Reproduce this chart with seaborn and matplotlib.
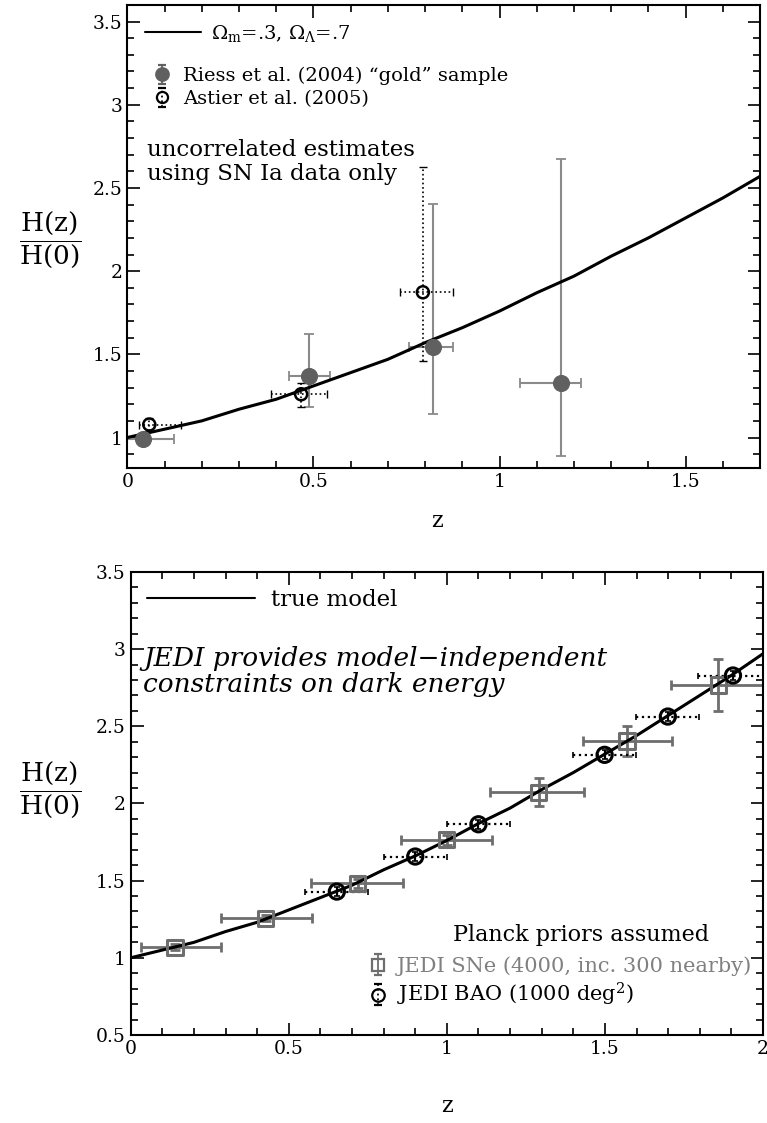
import numpy as np
import seaborn as sns
import matplotlib.pyplot as plt
from matplotlib.lines import Line2D
from matplotlib.ticker import MultipleLocator

CONFIG_DPI = 100
CONFIG_FIGSIZE_INCHES = (7.67, 11.23)
GRAY_MARK = "#606060"
GRAY_BAR = "#8a8a8a"
GRAY_SQ = "#6e6e6e"

# --- top panel: LCDM curve ---
Z_TOP = [0.0, 0.1, 0.2, 0.3, 0.4, 0.5, 0.6, 0.7, 0.8, 0.9,
         1.0, 1.1, 1.2, 1.3, 1.4, 1.5, 1.6, 1.7]
H_TOP = [1.00, 1.05, 1.10, 1.17, 1.23, 1.31, 1.39, 1.47, 1.57, 1.66,
         1.76, 1.87, 1.97, 2.09, 2.20, 2.32, 2.44, 2.57]

# Riess et al. (2004) gold sample
RIESS_Z = [0.043, 0.488, 0.820, 1.166]
RIESS_H = [0.99, 1.37, 1.543, 1.33]
RIESS_ZLO = [0.0, 0.435, 0.757, 1.055]
RIESS_ZHI = [0.126, 0.545, 0.876, 1.219]
RIESS_HLO = [0.96, 1.184, 1.140, 0.888]
RIESS_HHI = [1.02, 1.620, 2.404, 2.676]

# Astier et al. (2005)
ASTIER_Z = [0.059, 0.467, 0.794]
ASTIER_H = [1.078, 1.260, 1.873]
ASTIER_ZLO = [0.032, 0.386, 0.733]
ASTIER_ZHI = [0.144, 0.536, 0.876]
ASTIER_HLO = [1.038, 1.184, 1.458]
ASTIER_HHI = [1.118, 1.330, 2.623]

# --- bottom panel: true model curve ---
Z_BOT = [0.0, 0.1, 0.2, 0.3, 0.4, 0.5, 0.6, 0.7, 0.8, 0.9, 1.0,
         1.1, 1.2, 1.3, 1.4, 1.5, 1.6, 1.7, 1.8, 1.9, 2.0]
H_BOT = [1.00, 1.05, 1.10, 1.17, 1.23, 1.31, 1.39, 1.47, 1.57, 1.66, 1.76,
         1.87, 1.97, 2.09, 2.20, 2.32, 2.44, 2.57, 2.70, 2.83, 2.97]

# JEDI SNe
SNE_Z = [0.140, 0.427, 0.718, 1.000, 1.290, 1.570, 1.859]
SNE_H = [1.068, 1.256, 1.483, 1.764, 2.073, 2.405, 2.768]
SNE_ZLO = [0.032, 0.286, 0.570, 0.855, 1.137, 1.430, 1.709]
SNE_ZHI = [0.285, 0.575, 0.861, 1.142, 1.434, 1.712, 2.000]
SNE_HERR = [0.02, 0.02, 0.03, 0.03, 0.09, 0.10, 0.17]

# JEDI BAO
BAO_Z = [0.652, 0.900, 1.100, 1.499, 1.699, 1.905]
BAO_H = [1.429, 1.656, 1.865, 2.315, 2.563, 2.829]
BAO_ZERR = [0.10, 0.10, 0.10, 0.10, 0.10, 0.11]
BAO_HERR = [0.03, 0.03, 0.03, 0.03, 0.03, 0.03]

TOP_XTICKS = [0, 0.5, 1, 1.5]
TOP_XLABELS = ["0", "0.5", "1", "1.5"]
TOP_YTICKS = [1, 1.5, 2, 2.5, 3, 3.5]
TOP_YLABELS = ["1", "1.5", "2", "2.5", "3", "3.5"]
BOT_XTICKS = [0, 0.5, 1, 1.5, 2]
BOT_XLABELS = ["0", "0.5", "1", "1.5", "2"]
BOT_YTICKS = [0.5, 1, 1.5, 2, 2.5, 3, 3.5]
BOT_YLABELS = ["0.5", "1", "1.5", "2", "2.5", "3", "3.5"]

HZ_LABEL = r"$\dfrac{\mathrm{H(z)}}{\mathrm{H(0)}}$"


def style_axis(ax, xticks, xlabels, yticks, ylabels):
    ax.set_xticks(xticks, xlabels)
    ax.set_yticks(yticks, ylabels)
    ax.xaxis.set_minor_locator(MultipleLocator(0.1))
    ax.yaxis.set_minor_locator(MultipleLocator(0.1))
    ax.tick_params(which="both", direction="in", top=True, right=True,
                   width=1.2, colors="black", labelsize=13.5)
    ax.tick_params(which="major", length=9)
    ax.tick_params(which="minor", length=5)
    for sp in ax.spines.values():
        sp.set_linewidth(1.5)
        sp.set_color("black")


def bar_proxy(ax, marker, color, mfc, dotted, ms):
    # empty errorbar used only as a legend key
    eb = ax.errorbar([np.nan], [np.nan], yerr=[np.nan], fmt=marker, color=color,
                     mfc=mfc, mec=color, ms=ms, mew=1.6, ecolor=color,
                     elinewidth=1.3, capsize=3, capthick=1.2)
    if dotted:
        eb[2][0].set_linestyle(":")
    return eb


def main():
    sns.set_style("ticks")
    plt.rcParams["font.family"] = ["DejaVu Serif"]
    plt.rcParams["mathtext.fontset"] = "dejavuserif"
    plt.rcParams["text.color"] = "black"
    plt.rcParams["axes.labelcolor"] = "black"

    fig = plt.figure(figsize=CONFIG_FIGSIZE_INCHES, dpi=CONFIG_DPI)
    ax1 = fig.add_axes([0.166, 0.583, 0.825, 0.4126])
    ax2 = fig.add_axes([0.1704, 0.0784, 0.8244, 0.4123])

    # ---------------- top panel ----------------
    rz, rh = np.array(RIESS_Z), np.array(RIESS_H)
    ax1.errorbar(rz, rh,
                 xerr=[rz - np.array(RIESS_ZLO), np.array(RIESS_ZHI) - rz],
                 yerr=[rh - np.array(RIESS_HLO), np.array(RIESS_HHI) - rh],
                 fmt="none", ecolor=GRAY_BAR, elinewidth=1.5, capsize=3.5,
                 capthick=1.3, zorder=2)
    az, ah = np.array(ASTIER_Z), np.array(ASTIER_H)
    eb = ax1.errorbar(az, ah,
                      xerr=[az - np.array(ASTIER_ZLO), np.array(ASTIER_ZHI) - az],
                      yerr=[ah - np.array(ASTIER_HLO), np.array(ASTIER_HHI) - ah],
                      fmt="none", ecolor="black", elinewidth=1.2, capsize=3,
                      capthick=1.0, zorder=2)
    eb[2][0].set_linestyle(":")
    eb[2][1].set_linestyle(":")
    sns.lineplot(x=Z_TOP, y=H_TOP, ax=ax1, color="black", linewidth=2.2,
                 zorder=3)
    sns.scatterplot(x=RIESS_Z, y=RIESS_H, ax=ax1, s=130, color=GRAY_MARK,
                    edgecolor=GRAY_MARK, zorder=4)
    sns.scatterplot(x=ASTIER_Z, y=ASTIER_H, ax=ax1, s=75, facecolor="none",
                    edgecolor="black", linewidth=1.8, zorder=5)

    ax1.set_xlim(0, 1.7)
    ax1.set_ylim(0.815, 3.6)
    style_axis(ax1, TOP_XTICKS, TOP_XLABELS, TOP_YTICKS, TOP_YLABELS)

    ax1.set_xlabel("z", fontsize=16)
    ax1.xaxis.set_label_coords(0.49, -0.09)
    ax1.set_ylabel(HZ_LABEL, fontsize=19, rotation=0, ha="center", va="center")
    ax1.yaxis.set_label_coords(-0.122, 0.493)

    leg_a = ax1.legend(handles=[Line2D([], [], color="black", lw=1.5)],
                       labels=[r"$\Omega_{\rm m}$=.3, $\Omega_\Lambda$=.7"],
                       loc="upper left", bbox_to_anchor=(0.028, 0.962),
                       borderpad=0, borderaxespad=0, handlelength=2.9,
                       handletextpad=0.5, frameon=False, fontsize=14)
    ax1.add_artist(leg_a)
    h_riess = bar_proxy(ax1, "o", GRAY_MARK, GRAY_MARK, False, 9)
    h_astier = bar_proxy(ax1, "o", "black", "none", True, 8)
    ax1.legend(handles=[h_riess, h_astier],
               labels=["Riess et al. (2004) \u201cgold\u201d sample",
                       "Astier et al. (2005)"],
               loc="upper left", bbox_to_anchor=(0.039, 0.866), borderpad=0,
               borderaxespad=0, handlelength=1.0, handletextpad=0.6,
               labelspacing=0.25, frameon=False, fontsize=14)

    ax1.text(0.031, 0.71, "uncorrelated estimates\nusing SN Ia data only",
             transform=ax1.transAxes, ha="left", va="top", fontsize=16.5,
             linespacing=1.1)

    # ---------------- bottom panel ----------------
    sz, sh = np.array(SNE_Z), np.array(SNE_H)
    ax2.errorbar(sz, sh,
                 xerr=[sz - np.array(SNE_ZLO), np.array(SNE_ZHI) - sz],
                 yerr=SNE_HERR, fmt="none", ecolor=GRAY_SQ, elinewidth=2.0,
                 capsize=3.5, capthick=2.0, zorder=2)
    eb = ax2.errorbar(BAO_Z, BAO_H, xerr=BAO_ZERR, yerr=BAO_HERR, fmt="none",
                      ecolor="black", elinewidth=1.6, capsize=2.5,
                      capthick=1.2, zorder=2)
    eb[2][0].set_linestyle(":")
    sns.lineplot(x=Z_BOT, y=H_BOT, ax=ax2, color="black", linewidth=2.2,
                 zorder=3)
    sns.scatterplot(x=SNE_Z, y=SNE_H, ax=ax2, marker="s", s=120,
                    facecolor="none", edgecolor=GRAY_SQ, linewidth=2.2,
                    zorder=4)
    sns.scatterplot(x=BAO_Z, y=BAO_H, ax=ax2, marker="o", s=120,
                    facecolor="none", edgecolor="black", linewidth=2.2,
                    zorder=5)

    ax2.set_xlim(0, 2)
    ax2.set_ylim(0.5, 3.5)
    style_axis(ax2, BOT_XTICKS, BOT_XLABELS, BOT_YTICKS, BOT_YLABELS)

    ax2.set_xlabel("z", fontsize=16)
    ax2.xaxis.set_label_coords(0.5, -0.13)
    ax2.set_ylabel(HZ_LABEL, fontsize=19, rotation=0, ha="center", va="center")
    ax2.yaxis.set_label_coords(-0.128, 0.529)

    leg_b = ax2.legend(handles=[Line2D([], [], color="black", lw=1.5)],
                       labels=["true model"], loc="upper left",
                       bbox_to_anchor=(0.026, 0.963), borderpad=0,
                       borderaxespad=0, handlelength=4.7, handletextpad=0.7,
                       frameon=False, fontsize=16.5)
    ax2.add_artist(leg_b)

    ax2.text(0.02, 0.84,
             "JEDI provides model\u2212independent\nconstraints on dark energy",
             transform=ax2.transAxes, ha="left", va="top", fontsize=19,
             style="italic", linespacing=1.05)

    ax2.text(0.712, 0.216, "Planck priors assumed", transform=ax2.transAxes,
             ha="center", va="center", fontsize=16)
    h_sne = bar_proxy(ax2, "s", GRAY_SQ, "none", False, 9)
    h_bao = bar_proxy(ax2, "o", "black", "none", True, 9)
    leg_c = ax2.legend(handles=[h_sne, h_bao],
                       labels=["JEDI SNe (4000, inc. 300 nearby)",
                               r"JEDI BAO (1000 deg$^2$)"],
                       loc="upper left", bbox_to_anchor=(0.374, 0.17),
                       borderpad=0, borderaxespad=0, handlelength=1.0,
                       handletextpad=0.42, labelspacing=0.25, frameon=False,
                       fontsize=15)
    leg_c.get_texts()[0].set_color("#808080")

    fig.savefig("out.png", dpi=CONFIG_DPI)


if __name__ == "__main__":
    main()
